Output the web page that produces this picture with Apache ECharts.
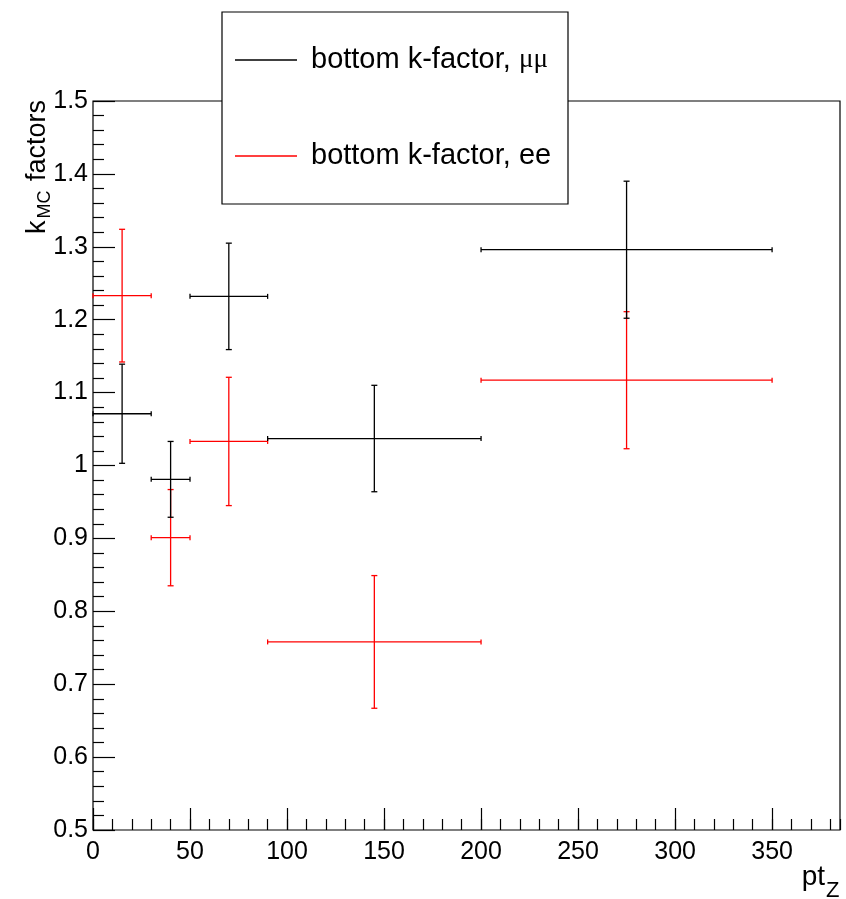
<!DOCTYPE html>
<html>
<head>
<meta charset="utf-8">
<script src="https://cdn.jsdelivr.net/npm/echarts@6/dist/echarts.min.js"></script>
<style>
html,body{margin:0;padding:0;background:#fff;}
#chart{width:846px;height:899px;}
</style>
</head>
<body>
<div id="chart"></div>
<script>
// ---- data ----
const binLow    = [0, 30, 50, 90, 200];
const binHigh   = [30, 50, 90, 200, 350];
const binCenter = [15, 40, 70, 145, 275];
const muValues  = [1.071, 0.981, 1.232, 1.037, 1.296];
const muErrors  = [0.068, 0.052, 0.073, 0.073, 0.094];
const eeValues  = [1.233, 0.901, 1.033, 0.758, 1.117];
const eeErrors  = [0.091, 0.066, 0.088, 0.091, 0.094];
const seriesNames = ['bottom k-factor, \u03bc\u03bc', 'bottom k-factor, ee'];
const xTitle = ['pt', 'Z'];
const yTitle = ['k', 'MC', ' factors'];

const FONT = 'Liberation Sans, Arial, Helvetica, sans-serif';

function buildData(values, errors) {
  return binCenter.map((x, i) => [x, values[i], binLow[i], binHigh[i], errors[i]]);
}

function makeRender(color) {
  return function (params, api) {
    const xc = api.value(0), y = api.value(1), xl = api.value(2), xh = api.value(3), e = api.value(4);
    const pC = api.coord([xc, y]);
    const pL = api.coord([xl, y]);
    const pH = api.coord([xh, y]);
    const pT = api.coord([xc, y + e]);
    const pB = api.coord([xc, y - e]);
    const st = { stroke: color, lineWidth: 1.3 };
    const capH = 2.5, capW = 3;
    const line = (x1, y1, x2, y2) => ({ type: 'line', shape: { x1, y1, x2, y2 }, style: st });
    return {
      type: 'group',
      children: [
        line(pL[0], pC[1], pH[0], pC[1]),
        line(pC[0], pT[1], pC[0], pB[1]),
        line(pL[0], pC[1] - capH, pL[0], pC[1] + capH),
        line(pH[0], pC[1] - capH, pH[0], pC[1] + capH),
        line(pC[0] - capW, pT[1], pC[0] + capW, pT[1]),
        line(pC[0] - capW, pB[1], pC[0] + capW, pB[1])
      ]
    };
  };
}

const chart = echarts.init(document.getElementById('chart'), null, { renderer: 'canvas' });

const axisLabelStyle = { color: '#000', fontSize: 25, fontFamily: FONT };

const option = {
  animation: false,
  backgroundColor: '#fff',
  grid: {
    left: 93, right: 6, top: 101, bottom: 69,
    show: true, borderColor: '#000', borderWidth: 1.2, backgroundColor: 'transparent'
  },
  xAxis: [
    {
      type: 'value', min: 0, max: 385, interval: 50,
      axisLine: { show: false },
      axisTick: { show: true, inside: true, length: 22, lineStyle: { color: '#000', width: 1.2 } },
      splitLine: { show: false },
      axisLabel: Object.assign({ margin: 10, showMaxLabel: false }, axisLabelStyle)
    },
    {
      type: 'value', min: 0, max: 385, interval: 10, position: 'bottom',
      axisLine: { show: false },
      axisTick: { show: true, inside: true, length: 11, lineStyle: { color: '#000', width: 1.2 } },
      splitLine: { show: false },
      axisLabel: { show: false }
    }
  ],
  yAxis: [
    {
      type: 'value', min: 0.5, max: 1.5, interval: 0.1,
      axisLine: { show: false },
      axisTick: { show: true, inside: true, length: 22, lineStyle: { color: '#000', width: 1.2 } },
      minorTick: { show: true, splitNumber: 5, length: 11, lineStyle: { color: '#000', width: 1.2 } },
      splitLine: { show: false },
      axisLabel: Object.assign({ margin: 5 }, axisLabelStyle)
    }
  ],
  legend: {
    left: 222, top: 12,
    orient: 'vertical',
    backgroundColor: '#fff',
    borderColor: '#000', borderWidth: 1.2,
    padding: [30, 6, 30, 13],
    itemGap: 60,
    itemWidth: 62, itemHeight: 1.5,
    icon: 'rect',
    selectedMode: false,
    data: seriesNames,
    formatter: function (name) {
      if (name === seriesNames[0]) return '{t|bottom k-factor, }{g|\u03bc\u03bc}';
      return '{t|' + name + '}';
    },
    textStyle: {
      width: 251, overflow: 'none', lineHeight: 36, padding: [0, 0, 0, 9],
      rich: {
        t: { fontSize: 29, fontFamily: FONT, color: '#000', lineHeight: 36 },
        g: { fontSize: 27, fontFamily: 'Liberation Serif, Times New Roman, serif', color: '#000', lineHeight: 36 }
      }
    },
    itemStyle: { borderWidth: 0 },
    z: 10
  },
  graphic: [
    {
      type: 'text', x: 38, y: 100, rotation: Math.PI / 2, z: 10,
      style: {
        text: '{k|' + yTitle[0] + '}{s|' + yTitle[1] + '}{k|' + yTitle[2] + '}',
        align: 'right', verticalAlign: 'middle',
        rich: {
          k: { fontSize: 27, fontFamily: FONT, fill: '#000', lineHeight: 30 },
          s: { fontSize: 18, fontFamily: FONT, fill: '#000', padding: [14, 2, 0, 2], lineHeight: 18 }
        }
      }
    },
    {
      type: 'text', x: 825, y: 891, z: 10,
      style: { text: xTitle[0], align: 'right', verticalAlign: 'bottom', font: '28px ' + FONT, fill: '#000' }
    },
    {
      type: 'text', x: 826, y: 902, z: 10,
      style: { text: xTitle[1], align: 'left', verticalAlign: 'bottom', font: '22px ' + FONT, fill: '#000' }
    }
  ],
  series: [
    {
      name: seriesNames[0], type: 'custom', xAxisIndex: 0, yAxisIndex: 0, z: 3,
      itemStyle: { color: '#000' },
      renderItem: makeRender('#000'),
      encode: { x: [0, 2, 3], y: 1 },
      data: buildData(muValues, muErrors)
    },
    {
      name: seriesNames[1], type: 'custom', xAxisIndex: 0, yAxisIndex: 0, z: 2,
      itemStyle: { color: '#ff0000' },
      renderItem: makeRender('#ff0000'),
      encode: { x: [0, 2, 3], y: 1 },
      data: buildData(eeValues, eeErrors)
    }
  ]
};
chart.setOption(option);
</script>
</body>
</html>
